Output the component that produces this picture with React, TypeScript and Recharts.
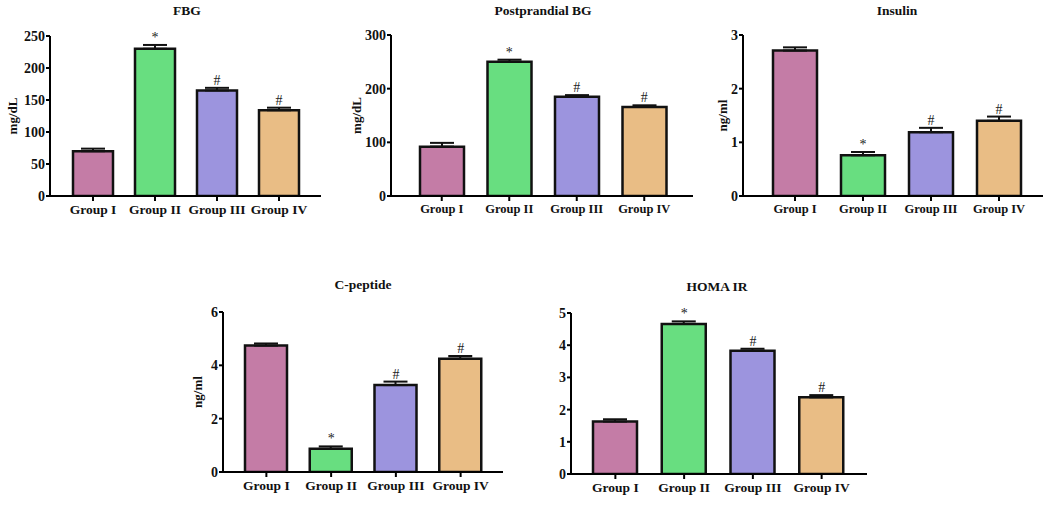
import React from "react";
import { BarChart, Bar, Cell, XAxis, YAxis, ErrorBar, ReferenceDot } from "recharts";

const groups = ["Group I", "Group II", "Group III", "Group IV"];
const groupColors = ["#c47ca6", "#68de80", "#9c94de", "#e9bd85"];
const marks = ["", "*", "#", "#"];

const fbgMeans = [70, 230, 165, 134];
const fbgErr = [4, 6, 4, 4];
const ppbgMeans = [92, 250, 185, 166];
const ppbgErr = [7, 4, 3, 3];
const insulinMeans = [2.71, 0.76, 1.19, 1.4];
const insulinErr = [0.06, 0.06, 0.08, 0.08];
const cpepMeans = [4.74, 0.87, 3.26, 4.25];
const cpepErr = [0.08, 0.09, 0.13, 0.1];
const homaMeans = [1.63, 4.66, 3.83, 2.38];
const homaErr = [0.07, 0.08, 0.06, 0.07];

const fbgTicks = [0, 50, 100, 150, 200, 250];
const ppbgTicks = [0, 100, 200, 300];
const insulinTicks = [0, 1, 2, 3];
const cpepTicks = [0, 2, 4, 6];
const homaTicks = [0, 1, 2, 3, 4, 5];

const FONT = "'Liberation Serif', 'Times New Roman', serif";

interface PanelProps {
  title: string;
  unit?: string;
  unitOffset?: number;
  means: number[];
  errs: number[];
  ticks: number[];
  x0: number;
  x1: number;
  yTop: number;
  yBot: number;
  padL: number;
  padR: number;
  barSize: number;
  xFont: number;
  titleX: number;
  titleY: number;
}

function Panel(p: PanelProps) {
  const data = groups.map((g, i) => ({
    group: g,
    mean: p.means[i],
    err: [0, p.errs[i]],
  }));
  const LEFT = 50;
  const TOP = 40;
  const w = p.x1 - p.x0 + LEFT + 8;
  const h = p.yBot - p.yTop + TOP + 35;
  const max = p.ticks[p.ticks.length - 1];

  return (
    <>
      <div
        style={{
          position: "absolute",
          left: p.titleX - 100,
          top: p.titleY - 8,
          width: 200,
          textAlign: "center",
          fontFamily: FONT,
          fontWeight: "bold",
          fontSize: 13.5,
          lineHeight: "16px",
          color: "#111",
        }}
      >
        {p.title}
      </div>
      <div style={{ position: "absolute", left: p.x0 - LEFT, top: p.yTop - TOP }}>
        <BarChart
          width={w}
          height={h}
          data={data}
          margin={{ top: TOP, right: 8, left: 0, bottom: 0 }}
        >
          <XAxis
            dataKey="group"
            height={35}
            padding={{ left: p.padL, right: p.padR }}
            stroke="#000"
            strokeWidth={2}
            tickSize={5}
            tickMargin={3}
            tick={{ fill: "#111", fontFamily: FONT, fontWeight: "bold", fontSize: p.xFont }}
            interval={0}
          />
          <YAxis
            width={LEFT}
            domain={[0, max]}
            ticks={p.ticks}
            allowDataOverflow
            stroke="#000"
            strokeWidth={2}
            tickSize={4}
            tickMargin={1}
            tick={{ fill: "#111", fontFamily: FONT, fontWeight: "bold", fontSize: 14 }}
            label={
              p.unit
                ? {
                    value: p.unit,
                    angle: -90,
                    position: "insideLeft",
                    offset: p.unitOffset,
                    style: {
                      textAnchor: "middle",
                      fontFamily: FONT,
                      fontWeight: "bold",
                      fontSize: 13,
                      fill: "#111",
                    },
                  }
                : undefined
            }
          />
          <Bar
            dataKey="mean"
            barSize={p.barSize}
            stroke="#111"
            strokeWidth={2.5}
            isAnimationActive={false}
          >
            {data.map((d, i) => (
              <Cell key={d.group} fill={groupColors[i]} />
            ))}
            <ErrorBar dataKey="err" width={12} stroke="#111" strokeWidth={2} direction="y" />
          </Bar>
          {groups.map((g, i) =>
            marks[i] ? (
              <ReferenceDot
                key={g}
                x={g}
                y={p.means[i] + p.errs[i]}
                r={0}
                fill="none"
                stroke="none"
                label={{
                  value: marks[i],
                  position: "top",
                  offset: 3,
                  style: { fontFamily: FONT, fontSize: 14, fill: "#222" },
                }}
              />
            ) : null
          )}
        </BarChart>
      </div>
    </>
  );
}

export default function App() {
  return (
    <div
      style={{
        position: "absolute",
        left: 0,
        top: 0,
        width: 1052,
        height: 505,
        background: "#fff",
        overflow: "hidden",
      }}
    >
      <Panel
        title="FBG"
        unit="mg/dL"
        unitOffset={12}
        means={fbgMeans}
        errs={fbgErr}
        ticks={fbgTicks}
        x0={50}
        x1={321}
        yTop={36}
        yBot={196}
        padL={12}
        padR={11}
        barSize={40}
        xFont={13.5}
        titleX={187}
        titleY={11}
      />
      <Panel
        title="Postprandial BG"
        unit="mg/dL"
        unitOffset={15}
        means={ppbgMeans}
        errs={ppbgErr}
        ticks={ppbgTicks}
        x0={391}
        x1={693}
        yTop={35}
        yBot={196}
        padL={17}
        padR={15}
        barSize={44}
        xFont={12.5}
        titleX={543}
        titleY={11}
      />
      <Panel
        title="Insulin"
        unit="ng/ml"
        unitOffset={29}
        means={insulinMeans}
        errs={insulinErr}
        ticks={insulinTicks}
        x0={743}
        x1={1043}
        yTop={35}
        yBot={196}
        padL={18}
        padR={10}
        barSize={44}
        xFont={12.5}
        titleX={897}
        titleY={11}
      />
      <Panel
        title="C-peptide"
        unit="ng/ml"
        unitOffset={24}
        means={cpepMeans}
        errs={cpepErr}
        ticks={cpepTicks}
        x0={223}
        x1={503}
        yTop={312}
        yBot={472}
        padL={11}
        padR={10}
        barSize={42}
        xFont={13.5}
        titleX={363}
        titleY={285}
      />
      <Panel
        title="HOMA IR"
        means={homaMeans}
        errs={homaErr}
        ticks={homaTicks}
        x0={571}
        x1={867}
        yTop={313}
        yBot={474}
        padL={10}
        padR={11}
        barSize={44}
        xFont={13.5}
        titleX={717}
        titleY={287}
      />
    </div>
  );
}
